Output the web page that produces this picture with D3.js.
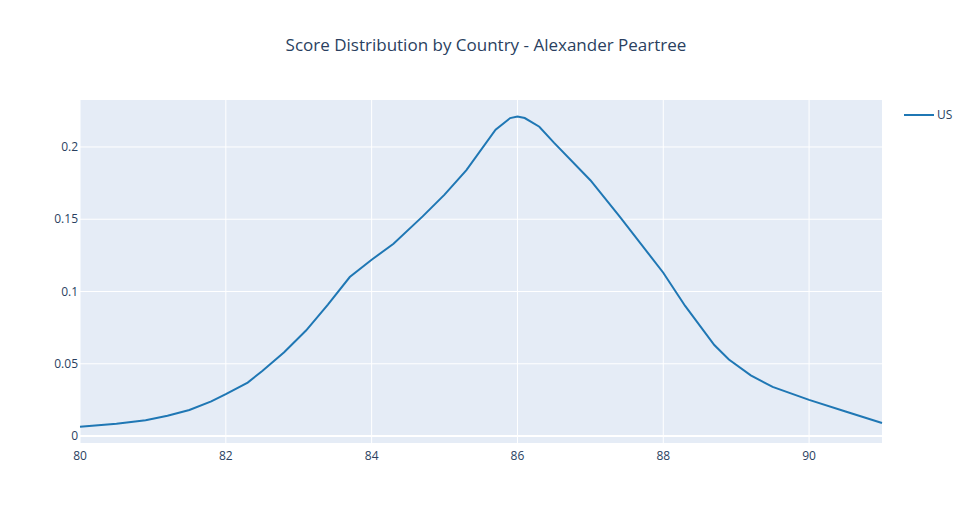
<!doctype html>
<meta charset="utf-8">
<script src="https://d3js.org/d3.v7.min.js"></script>
<style>
body { margin: 0; }
text { font-family: "Open Sans", Arial, sans-serif; fill: #2a3f5f; }
</style>
<svg id="svg" width="971" height="525"></svg>
<script>
// Score distribution values
var scores = [80, 80.5, 80.9, 81.2, 81.5, 81.8, 82, 82.3, 82.5, 82.8, 83.1, 83.4, 83.7, 84, 84.3, 84.7, 85, 85.3, 85.7, 85.9, 86, 86.1, 86.3, 86.5, 87, 87.4, 88, 88.3, 88.7, 88.9, 89.2, 89.5, 90, 90.5, 91];
var density = [0.0065, 0.0085, 0.011, 0.014, 0.018, 0.024, 0.029, 0.037, 0.045, 0.058, 0.073, 0.091, 0.11, 0.122, 0.133, 0.152, 0.167, 0.184, 0.212, 0.22, 0.221, 0.22, 0.214, 0.203, 0.177, 0.152, 0.113, 0.09, 0.063, 0.053, 0.042, 0.034, 0.025, 0.017, 0.009];
var xTicks = [80, 82, 84, 86, 88, 90];
var yTicks = [0, 0.05, 0.1, 0.15, 0.2];

var svg = d3.select("#svg");
var L = 80, R = 882, T = 100, B = 443;
var x = d3.scaleLinear().domain([80, 91]).range([L, R]);
var y = d3.scaleLinear().domain([-0.0048, 0.2325]).range([B, T]);

svg.append("rect").attr("x", L).attr("y", T).attr("width", R - L).attr("height", B - T).attr("fill", "#e5ecf6");

svg.selectAll(".gx").data(xTicks).join("line")
  .attr("x1", d => x(d)).attr("x2", d => x(d)).attr("y1", T).attr("y2", B)
  .attr("stroke", "#fff").attr("stroke-width", 1);
svg.selectAll(".gy").data(yTicks).join("line")
  .attr("x1", L).attr("x2", R).attr("y1", d => y(d)).attr("y2", d => y(d))
  .attr("stroke", "#fff").attr("stroke-width", d => d === 0 ? 2 : 1);

svg.selectAll(".tx").data(xTicks).join("text")
  .attr("x", d => x(d)).attr("y", B + 17).attr("text-anchor", "middle")
  .attr("font-size", 12).text(d => d);
svg.selectAll(".ty").data(yTicks).join("text")
  .attr("x", L - 2).attr("y", d => y(d) + 4).attr("text-anchor", "end")
  .attr("font-size", 12).text(d => d);

var line = d3.line().x((d, i) => x(scores[i])).y(d => y(d)).curve(d3.curveLinear);
svg.append("path").datum(density).attr("d", line)
  .attr("fill", "none").attr("stroke", "#1f77b4").attr("stroke-width", 2);

svg.append("text").attr("x", 486).attr("y", 51).attr("text-anchor", "middle")
  .attr("font-size", 17).text("Score Distribution by Country - Alexander Peartree");

svg.append("line").attr("x1", 904).attr("x2", 934).attr("y1", 115).attr("y2", 115)
  .attr("stroke", "#1f77b4").attr("stroke-width", 2);
svg.append("text").attr("x", 937).attr("y", 119).attr("font-size", 12).text("US");
</script>
